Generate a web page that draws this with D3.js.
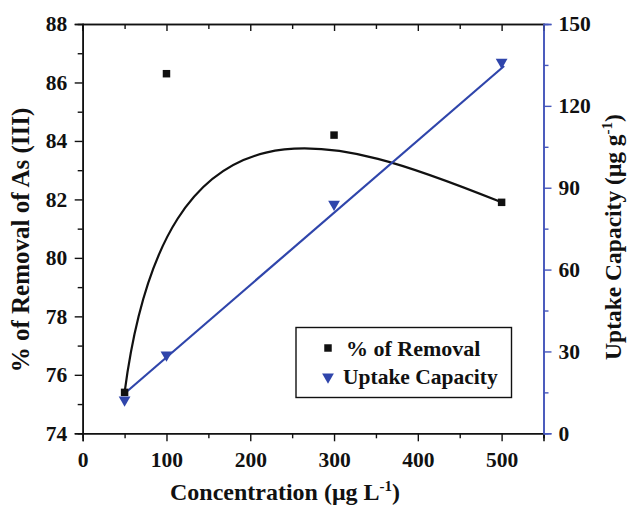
<!DOCTYPE html>
<html>
<head>
<meta charset="utf-8">
<script src="https://cdn.jsdelivr.net/npm/d3@7"></script>
<style>
  body { margin: 0; background: #fff; }
  svg text { font-family: "Liberation Serif", "Times New Roman", Times, serif; font-weight: bold; }
</style>
</head>
<body>
<div id="chart"></div>
<script>
// data
const concentration = [50, 100, 300, 500];
const removal = [75.4, 86.3, 84.2, 81.9];
const uptake = [12.2, 28.7, 84.0, 136.0];
const fitX = [50, 503];
const fitY = [14.6, 134.6];

const leftTicks = [74, 76, 78, 80, 82, 84, 86, 88];
const rightTicks = [0, 30, 60, 90, 120, 150];
const xTicks = [0, 100, 200, 300, 400, 500];

const width = 628;
const height = 507;
const m = { top: 24, right: 84.5, bottom: 73.7, left: 82.7 };
const blue = '#2f45ab';
const axisBlue = '#4556bb';
const serif = '"Liberation Serif", "Times New Roman", Times, serif';

const svg = d3.select('#chart')
  .append('svg')
  .attr('width', width)
  .attr('height', height)
  .attr('font-family', serif);

const x = d3.scaleLinear().domain([0, 550]).range([m.left, width - m.right]);
const yL = d3.scaleLinear().domain([74, 88]).range([height - m.bottom, m.top]);
const yR = d3.scaleLinear().domain([0, 150]).range([height - m.bottom, m.top]);

const styleAxis = (g, color) => {
  g.attr('font-family', serif);
  g.select('.domain').attr('stroke', color).attr('stroke-width', 1.6);
  g.selectAll('.tick line').attr('stroke', color).attr('stroke-width', 1.4);
  g.selectAll('.tick text').attr('fill', '#111').attr('font-size', 21.5)
    .attr('font-weight', 'bold');
};

// minor ticks first
svg.append('g')
  .attr('transform', `translate(0,${height - m.bottom})`)
  .call(d3.axisBottom(x).tickValues([50, 150, 250, 350, 450, 550]).tickSize(5).tickFormat(''))
  .call((g) => styleAxis(g, '#111'));
svg.append('g')
  .attr('transform', `translate(0,${m.top})`)
  .call(d3.axisBottom(x).tickValues([50, 150, 250, 350, 450, 550]).tickSize(5).tickFormat(''))
  .call((g) => styleAxis(g, '#111'));
svg.append('g')
  .attr('transform', `translate(${m.left},0)`)
  .call(d3.axisLeft(yL).tickValues([75, 77, 79, 81, 83, 85, 87]).tickSize(5).tickFormat(''))
  .call((g) => styleAxis(g, '#111'));
svg.append('g')
  .attr('transform', `translate(${width - m.right},0)`)
  .call(d3.axisRight(yR).tickValues([15, 45, 75, 105, 135]).tickSize(5).tickFormat(''))
  .call((g) => styleAxis(g, axisBlue));

// major axes
svg.append('g')
  .attr('transform', `translate(0,${height - m.bottom})`)
  .call(d3.axisBottom(x).tickValues(xTicks).tickSize(8).tickPadding(10))
  .call((g) => styleAxis(g, '#111'));
svg.append('g')
  .attr('transform', `translate(0,${m.top})`)
  .call(d3.axisBottom(x).tickValues(xTicks).tickSize(7).tickFormat(''))
  .call((g) => styleAxis(g, '#111'));
svg.append('g')
  .attr('transform', `translate(${m.left},0)`)
  .call(d3.axisLeft(yL).tickValues(leftTicks).tickSize(8).tickPadding(7.5))
  .call((g) => styleAxis(g, '#111'));
svg.append('g')
  .attr('transform', `translate(${width - m.right},0)`)
  .call(d3.axisRight(yR).tickValues(rightTicks).tickSize(8).tickPadding(7))
  .call((g) => styleAxis(g, axisBlue));

// B-spline through removal points (single cubic segment)
const p = d3.path();
p.moveTo(x(concentration[0]), yL(removal[0]));
p.bezierCurveTo(
  x(concentration[1]), yL(removal[1]),
  x(concentration[2]), yL(removal[2]),
  x(concentration[3]), yL(removal[3]),
);
svg.append('path')
  .attr('d', p.toString())
  .attr('fill', 'none')
  .attr('stroke', '#111')
  .attr('stroke-width', 2.2);

// linear fit of uptake
svg.append('path')
  .datum(fitX.map((d, i) => [d, fitY[i]]))
  .attr('d', d3.line().x((d) => x(d[0])).y((d) => yR(d[1])))
  .attr('fill', 'none')
  .attr('stroke', blue)
  .attr('stroke-width', 2.2);

const square = d3.symbol().type(d3.symbolSquare).size(56);
const tri = d3.symbol().type(d3.symbolTriangle).size(60);

svg.append('g').selectAll('path')
  .data(concentration)
  .join('path')
  .attr('d', square)
  .attr('transform', (d, i) => `translate(${x(d)},${yL(removal[i])})`)
  .attr('fill', '#111');

svg.append('g').selectAll('path')
  .data(concentration)
  .join('path')
  .attr('d', tri)
  .attr('transform', (d, i) => `translate(${x(d)},${yR(uptake[i])}) rotate(180)`)
  .attr('fill', blue);

// legend
const lg = svg.append('g');
lg.append('rect')
  .attr('x', 296).attr('y', 327.5)
  .attr('width', 215.5).attr('height', 70)
  .attr('fill', '#fff').attr('stroke', '#111').attr('stroke-width', 1.4);
lg.append('path').attr('d', square).attr('transform', 'translate(328,348)').attr('fill', '#111');
lg.append('path').attr('d', tri).attr('transform', 'translate(328,377) rotate(180)').attr('fill', blue);
lg.append('text').attr('x', 346).attr('y', 356).attr('font-size', 22).attr('fill', '#111').text('% of Removal');
lg.append('text').attr('x', 343).attr('y', 383.5).attr('font-size', 21.5).attr('fill', '#111').text('Uptake Capacity');

// axis titles
const xt = svg.append('text')
  .attr('x', 285).attr('y', 500)
  .attr('text-anchor', 'middle')
  .attr('font-size', 24)
  .attr('fill', '#111');
xt.append('tspan').text('Concentration (μg L');
xt.append('tspan').attr('dy', -9).attr('font-size', 15).text('-1');
xt.append('tspan').attr('dy', 9).text(')');

svg.append('text')
  .attr('transform', 'translate(28.5,240) rotate(-90)')
  .attr('text-anchor', 'middle')
  .attr('font-size', 25)
  .attr('fill', '#111')
  .text('% of Removal of As (III)');

const yt = svg.append('text')
  .attr('transform', 'translate(621,237) rotate(-90)')
  .attr('text-anchor', 'middle')
  .attr('font-size', 23.5)
  .attr('fill', '#111');
yt.append('tspan').text('Uptake Capacity (μg g');
yt.append('tspan').attr('dy', -9).attr('font-size', 15).text('-1');
yt.append('tspan').attr('dy', 9).text(')');
</script>
</body>
</html>
